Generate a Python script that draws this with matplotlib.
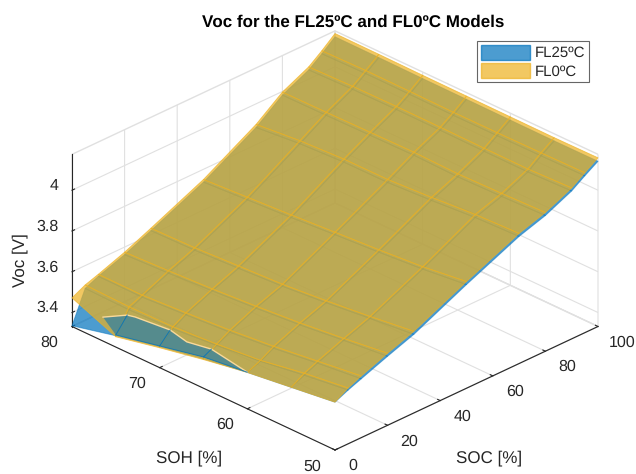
import numpy as np
import matplotlib
matplotlib.use("Agg")
import matplotlib.pyplot as plt
from matplotlib.patches import Patch
from mpl_toolkits.mplot3d import proj3d
from mpl_toolkits.mplot3d.art3d import Poly3DCollection

plt.rcParams['font.family'] = ['Liberation Sans', 'DejaVu Sans']
plt.rcParams['text.hinting'] = 'none'
plt.rcParams['text.hinting_factor'] = 1

soc = [0, 5, 10, 20, 30, 50, 70, 80, 90, 95, 100]
soh = [50, 55, 60, 65, 70, 75, 80]

# one row per SOC value, columns follow soh
voc_fl0 = [
    [3.566, 3.538, 3.510, 3.472, 3.429, 3.382, 3.472],
    [3.605, 3.577, 3.539, 3.518, 3.502, 3.499, 3.505],
    [3.634, 3.606, 3.578, 3.556, 3.540, 3.526, 3.527],
    [3.685, 3.657, 3.632, 3.613, 3.597, 3.585, 3.575],
    [3.732, 3.704, 3.680, 3.660, 3.649, 3.637, 3.632],
    [3.855, 3.827, 3.809, 3.794, 3.778, 3.764, 3.750],
    [3.970, 3.962, 3.945, 3.932, 3.931, 3.920, 3.899],
    [4.012, 4.005, 4.000, 4.005, 4.002, 3.999, 3.997],
    [4.072, 4.064, 4.065, 4.067, 4.068, 4.066, 4.060],
    [4.116, 4.113, 4.111, 4.110, 4.112, 4.113, 4.109],
    [4.159, 4.157, 4.158, 4.159, 4.160, 4.162, 4.163],
]
voc_fl25 = [
    [3.566, 3.538, 3.510, 3.476, 3.434, 3.387, 3.335],
    [3.595, 3.567, 3.534, 3.511, 3.492, 3.484, 3.488],
    [3.620, 3.596, 3.568, 3.546, 3.530, 3.516, 3.517],
    [3.670, 3.647, 3.622, 3.603, 3.587, 3.573, 3.563],
    [3.717, 3.694, 3.670, 3.650, 3.637, 3.625, 3.620],
    [3.840, 3.815, 3.797, 3.782, 3.765, 3.751, 3.737],
    [3.955, 3.947, 3.930, 3.917, 3.916, 3.905, 3.884],
    [3.997, 3.990, 3.985, 3.990, 3.987, 3.984, 3.982],
    [4.057, 4.049, 4.050, 4.052, 4.053, 4.051, 4.045],
    [4.101, 4.098, 4.096, 4.095, 4.097, 4.098, 4.094],
    [4.142, 4.141, 4.142, 4.143, 4.144, 4.146, 4.147],
]
# part of the FL25 sheet that lies above FL0 near the empty corner
notch_soh = [76.46, 75.2, 74.3, 70.3, 68.4, 65.6, 60, 65, 70, 75]
notch_soc = [0, 5, 5, 5, 5, 5, 0, 0, 0, 0]
notch_v = [3.449, 3.454, 3.463, 3.480, 3.460, 3.481, 3.511, 3.485, 3.438, 3.391]

soc_ticks = [0, 20, 40, 60, 80, 100]
soh_ticks = [50, 60, 70, 80]
v_ticks = [3.4, 3.6, 3.8, 4]
v_labels = ['3.4', '3.6', '3.8', '4']

blue = (0, 0.447, 0.741)
orange = (0.929, 0.694, 0.125)
dark = (0.15, 0.15, 0.15)
V_MIN = 3.3315
V_MAX = 4.176

fig = plt.figure(figsize=(6.36, 4.74), dpi=100)
ax = fig.add_axes([0, 0, 1, 1], projection='3d', computed_zorder=False)
ax.set_proj_type('ortho')
ax.view_init(elev=28.0, azim=-135)
ax.set_box_aspect((372, 372, 195))
ax.set_xlim(0, 100, view_margin=0)
ax.set_ylim(50, 80, view_margin=0)
ax.set_zlim(V_MIN, V_MAX, view_margin=0)

X, Y = np.meshgrid(soc, soh, indexing='ij')
ax.plot_surface(X, Y, np.array(voc_fl25), rstride=1, cstride=1, shade=False,
                color=blue + (0.7,), edgecolor=blue + (0.5,), linewidth=0.7, zorder=1)
ax.plot_surface(X, Y, np.array(voc_fl0), rstride=1, cstride=1, shade=False,
                color=orange + (0.7,), edgecolor=orange + (0.7,), linewidth=0.6, zorder=2)
notch = Poly3DCollection([list(zip(notch_soc, notch_soh, notch_v))], facecolor=blue + (0.55,),
                         edgecolor='none', zorder=3)
ax.add_collection3d(notch)
ax.plot(notch_soc[:7], notch_soh[:7], notch_v[:7], color=(0.98, 0.85, 0.6), lw=1.0, zorder=4)
ax.plot(notch_soc[6:], notch_soh[6:], notch_v[6:], color=blue + (0.8,), lw=0.7, zorder=4)
for top, bottom in [(1, 9), (3, 8), (5, 7)]:
    ax.plot([notch_soc[top], notch_soc[bottom]], [notch_soh[top], notch_soh[bottom]],
            [notch_v[top], notch_v[bottom]], color=blue + (0.8,), lw=0.7, zorder=4)

ax.set_xticks(soc_ticks)
ax.set_yticks(soh_ticks)
ax.set_zticks(v_ticks)
ax.set_xticklabels([''] * len(soc_ticks))
ax.set_yticklabels([''] * len(soh_ticks))
ax.set_zticklabels([''] * len(v_ticks))
for axis in (ax.xaxis, ax.yaxis, ax.zaxis):
    axis.set_pane_color((1, 1, 1, 1))
    axis.pane.set_edgecolor((0.88, 0.88, 0.88))
    axis.line.set_color(dark)
    axis.line.set_linewidth(0.8)
    axis._axinfo['grid'].update(color=(0.88, 0.88, 0.88), linewidth=0.8)
    axis._axinfo['tick'].update(color=dark, inward_factor=0, outward_factor=0.12)
ax.tick_params(colors=dark, width=0.8)


def to_px(sc, sh, v):
    px, py, _z = proj3d.proj_transform(sc, sh, v, ax.get_proj())
    return ax.transData.transform((px, py))


def place_axes():
    # line the floor corners up with the reference pixels
    for _ in range(3):
        ax.apply_aspect()
        p0 = to_px(0, 80, V_MIN)
        p1 = to_px(100, 50, V_MIN)
        pos = ax.get_position(original=True)
        s = 526.0 / (p1[0] - p0[0])
        x0, y0 = pos.x0, pos.y0
        w, h = pos.width * s, pos.height * s
        cx = (p0[0] / 636 - x0) * s + x0
        cy = (p0[1] / 474 - y0) * s + y0
        ax.set_position([x0 + 72 / 636 - cx, y0 + (474 - 326.5) / 474 - cy, w, h])
    ax.apply_aspect()


place_axes()


def tick_text(p, dx, dy, label, ha):
    # dx, dy in pixels, dy going down the image
    fig.text((p[0] + dx) / 636, (p[1] - dy) / 474, label, ha=ha, va='center',
             fontsize=11.4, color=dark)


for t in soc_ticks:
    # 100 sits against the right edge of the figure
    tick_text(to_px(t, 50, V_MIN), 10.5 if t == 100 else 13, 16, str(t), 'left')
for t in soh_ticks:
    tick_text(to_px(0, t, V_MIN), -22.3, 16.3, str(t), 'center')
for t, lab in zip(v_ticks, v_labels):
    tick_text(to_px(0, 80, t), -13.5, -4.5, lab, 'right')

fig.text(353 / 636, 1 - 22 / 474, 'Voc for the FL25ºC and FL0ºC Models', ha='center', va='center',
         fontsize=12.1, fontweight='bold', color='k')
fig.text(189 / 636, 1 - 458 / 474, 'SOH [%]', ha='center', va='center', fontsize=12.5, color=dark)
fig.text(489 / 636, 1 - 458 / 474, 'SOC [%]', ha='center', va='center', fontsize=12.5, color=dark)
fig.text(20 / 636, 1 - 260 / 474, 'Voc [V]', ha='center', va='center', rotation=90, fontsize=12.5, color=dark)

handles = [Patch(facecolor=blue + (0.7,), edgecolor=blue + (0.7,), label='FL25ºC'),
           Patch(facecolor=orange + (0.7,), edgecolor=orange + (0.7,), label='FL0ºC')]
leg = fig.legend(handles=handles, loc='upper left', bbox_to_anchor=(477 / 636, 1 - 41 / 474),
                 fontsize=10.5, frameon=True, fancybox=False, framealpha=1, edgecolor=(0.4, 0.4, 0.4),
                 handlelength=3.35, handleheight=1.2, labelspacing=0.2, borderpad=0.25, handletextpad=0.35,
                 borderaxespad=0)
leg.get_frame().set_linewidth(0.8)
for t in leg.get_texts():
    t.set_color(dark)

fig.savefig('out.png', dpi=100)
